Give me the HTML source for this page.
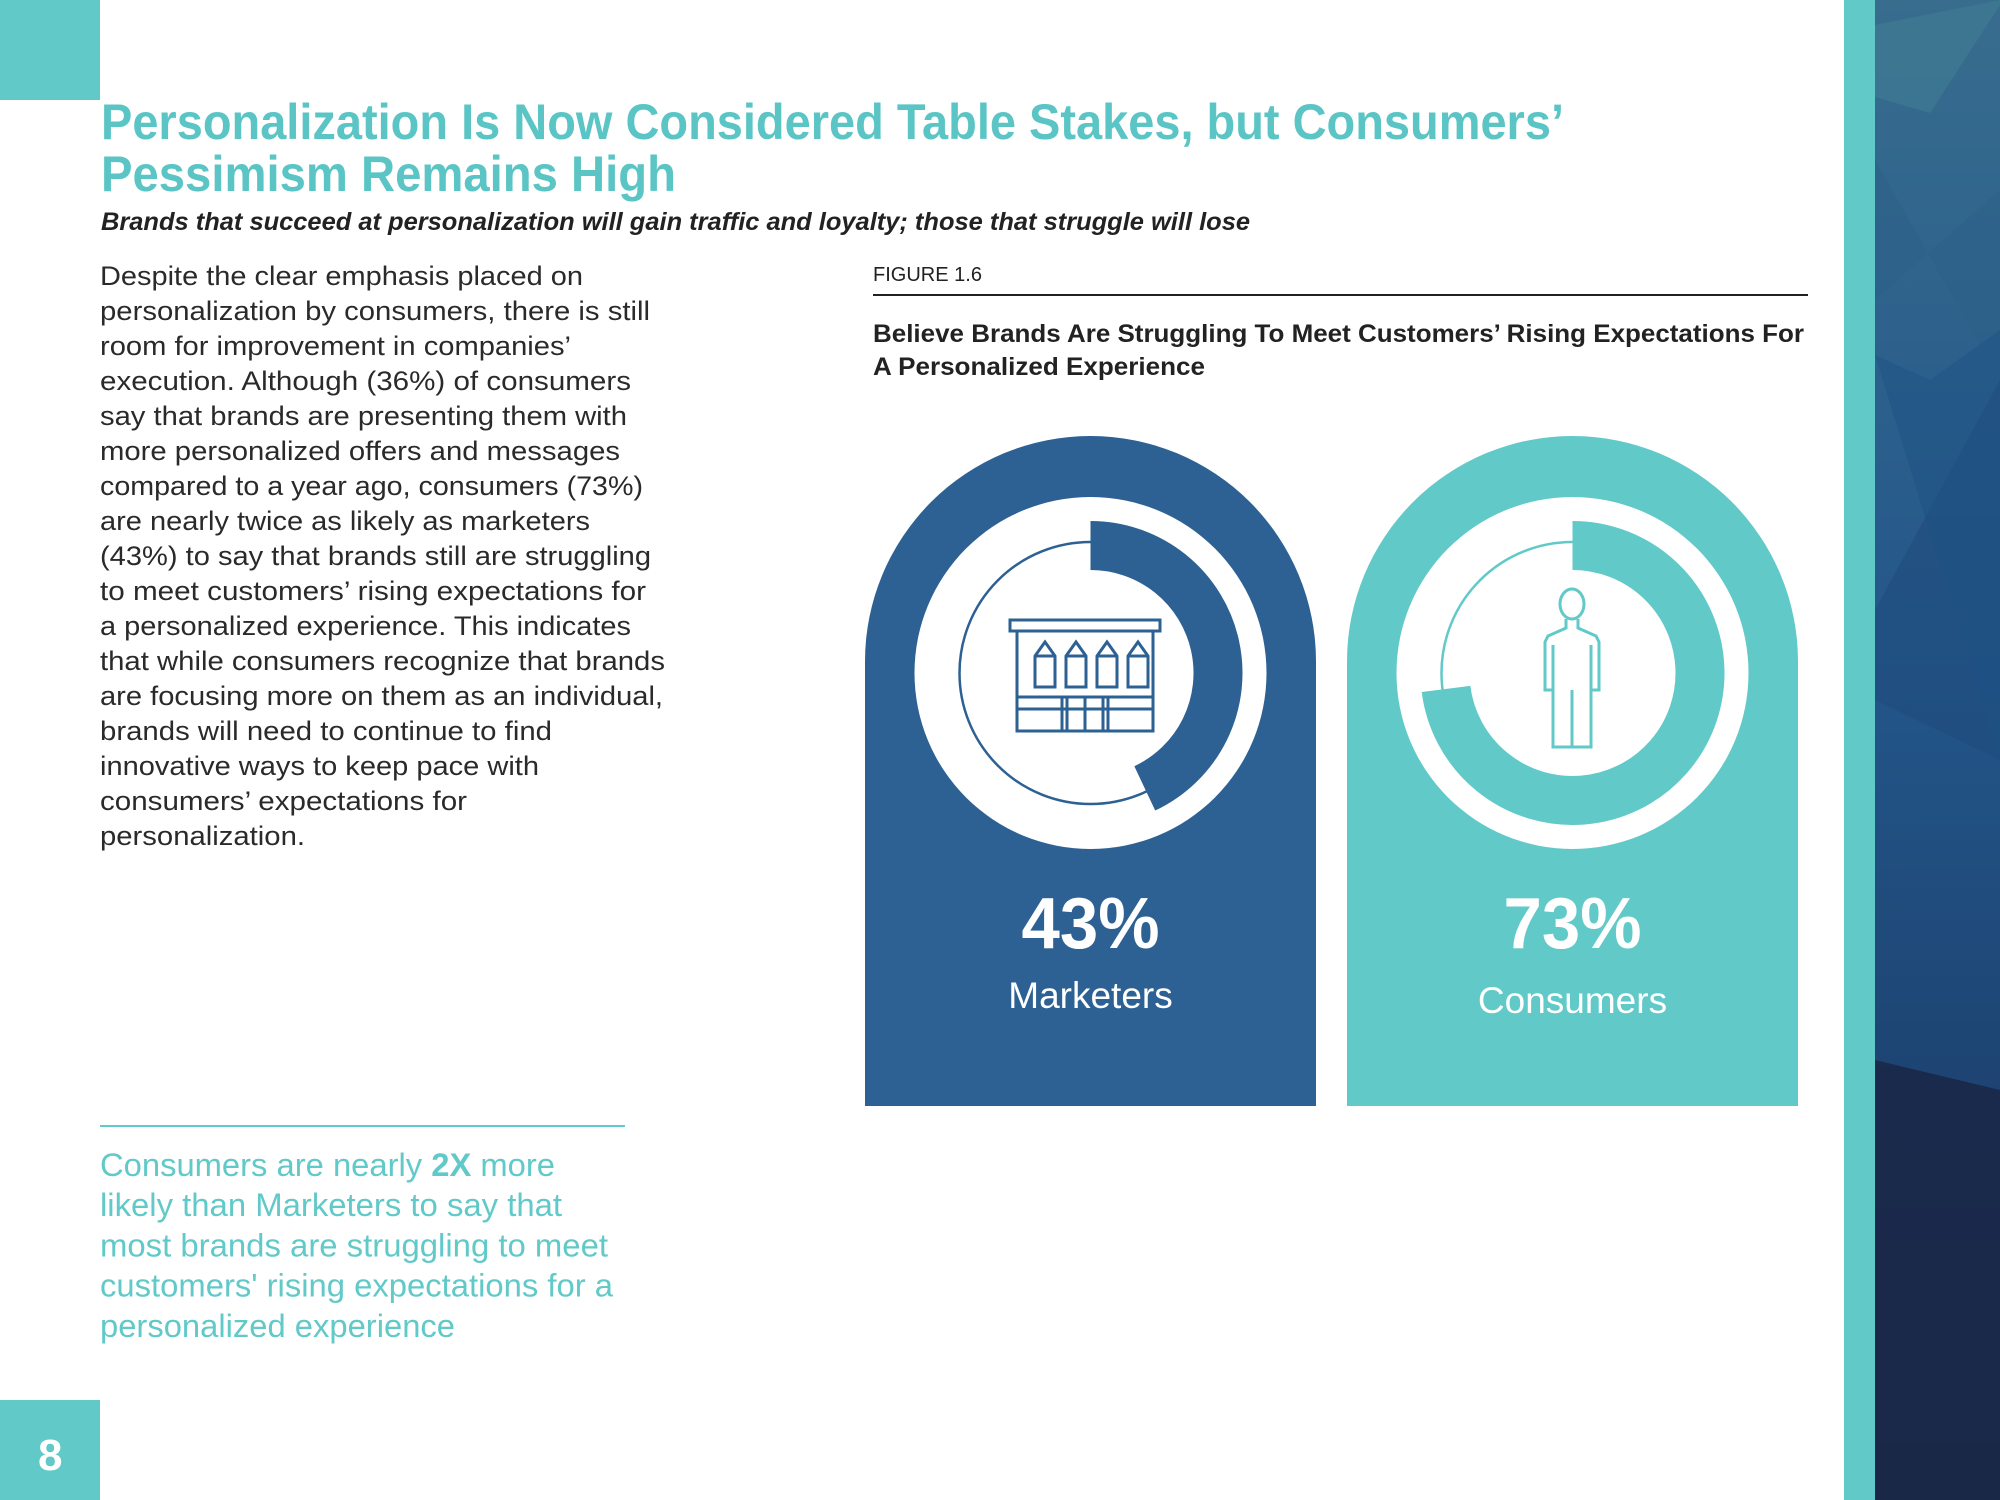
<!DOCTYPE html>
<html><head><meta charset="utf-8"><style>
html,body{margin:0;padding:0;background:#fff}
svg{display:block}
text{font-family:"Liberation Sans",sans-serif}
</style></head><body>
<svg id="page" width="2000" height="1500" viewBox="0 0 2000 1500" xmlns="http://www.w3.org/2000/svg">
<defs>
<linearGradient id="bg" x1="0" y1="0" x2="0" y2="1">
<stop offset="0" stop-color="#386d8e"/><stop offset="0.45" stop-color="#23568a"/><stop offset="0.72" stop-color="#1d4472"/><stop offset="1" stop-color="#1b2849"/>
</linearGradient>
</defs>
<rect x="0" y="0" width="100" height="100" fill="#62c9c9"/>
<g>
<rect x="1844" y="0" width="31" height="1500" fill="#62c9c9"/>
<rect x="1875" y="0" width="125" height="1500" fill="url(#bg)"/>
<polygon points="1875,25 2000,0 2000,5 1930,113 1875,97" fill="#3f7a93" opacity="0.7"/>
<polygon points="1875,300 2000,190 2000,380 1875,160" fill="#2b5f88" opacity="0.5"/>
<polygon points="1875,610 2000,380 2000,760 1875,700" fill="#1f4b7d" opacity="0.6"/>
<polygon points="1875,355 1930,380 2000,330 2000,760" fill="#1e5283" opacity="0.5"/>
<polygon points="1875,1060 2000,1090 2000,1500 1875,1500" fill="#1b2848" opacity="0.9"/>
</g>
<g fill="#5bc5c5" font-weight="bold" font-size="50">
<text x="101" y="139" textLength="1463" lengthAdjust="spacingAndGlyphs">Personalization Is Now Considered Table Stakes, but Consumers’</text>
<text x="101" y="191" textLength="575" lengthAdjust="spacingAndGlyphs">Pessimism Remains High</text>
</g>
<text x="101" y="230" font-size="25" font-weight="bold" font-style="italic" fill="#222" textLength="1149" lengthAdjust="spacingAndGlyphs">Brands that succeed at personalization will gain traffic and loyalty; those that struggle will lose</text>
<g id="body" font-size="27" fill="#2a2a2a"></g>
<line x1="100" y1="1126" x2="625" y2="1126" stroke="#62c9c9" stroke-width="2"/>
<g id="quote" font-size="32" fill="#62c9c9"></g>
<rect x="0" y="1400" width="100" height="100" fill="#62c9c9"/>
<text x="38" y="1470" font-size="44" font-weight="bold" fill="#fff">8</text>
<text x="873" y="281" font-size="20" fill="#222" textLength="109" lengthAdjust="spacingAndGlyphs">FIGURE 1.6</text>
<line x1="873" y1="295" x2="1808" y2="295" stroke="#222" stroke-width="2"/>
<g font-size="25" font-weight="bold" fill="#222">
<text x="873" y="342" textLength="931" lengthAdjust="spacingAndGlyphs">Believe Brands Are Struggling To Meet Customers’ Rising Expectations For</text>
<text x="873" y="375" textLength="332" lengthAdjust="spacingAndGlyphs">A Personalized Experience</text>
</g>
<g id="chart"></g>
</svg>
<script>
const bodyLines=["Despite the clear emphasis placed on","personalization by consumers, there is still","room for improvement in companies’","execution.  Although (36%) of consumers","say that brands are presenting them with","more personalized offers and messages","compared to a year ago, consumers (73%)","are nearly twice as likely as marketers","(43%) to say that brands still are struggling","to meet customers’ rising expectations for","a personalized experience. This indicates","that while consumers recognize that brands","are focusing more on them as an individual,","brands will need to continue to find","innovative ways to keep pace with","consumers’ expectations for","personalization."];
const bodyEnds=[458,510,448,495,492,487,505,463,511,507,495,522,520,433,423,367,240];
const quoteLines=["Consumers are nearly <b>2X</b> more","likely than Marketers to say that","most brands are struggling to meet","customers' rising expectations for a","personalized experience"];
const quoteEnds=[436,441,477,481,357];
const categories=["Marketers","Consumers"];
const values=[43,73];
const valueLabels=["43%","73%"];
const NS="http://www.w3.org/2000/svg";
function mk(tag,attrs,parent){const e=document.createElementNS(NS,tag);for(const k in attrs)e.setAttribute(k,attrs[k]);parent.appendChild(e);return e;}
const S=2000/1568;
const body=document.getElementById('body');
bodyLines.forEach((t,i)=>{const e=mk('text',{x:100,y:285+i*35,textLength:Math.round((bodyEnds[i]-79)*S),lengthAdjust:'spacingAndGlyphs'},body);


e.textContent=t;});
const quote=document.getElementById('quote');
quoteLines.forEach((t,i)=>{const e=mk('text',{x:100,y:1176+i*40.2,textLength:Math.round((quoteEnds[i]-79)*S),lengthAdjust:'spacingAndGlyphs'},quote);


if(t.includes('<b>')){const p=t.split(/<b>|<\/b>/);const a=mk('tspan',{},e);a.textContent=p[0];const b=mk('tspan',{'font-weight':'bold'},e);b.textContent=p[1];const c=mk('tspan',{},e);c.textContent=p[2];}else e.textContent=t;});
const chart=document.getElementById('chart');
const colors=["#2d6194","#62c9c9"];
const panelX=[865,1347], panelW=451, panelTop=436, panelBot=1106, cy=673;
function arcPath(cx,cy,r,pct){const a=pct/100*2*Math.PI;const x=cx+r*Math.sin(a),y=cy-r*Math.cos(a);return `M${cx},${cy-r} A${r},${r} 0 ${pct>50?1:0} 1 ${x},${y}`;}
categories.forEach((c,i)=>{
 const g=mk('g',{},chart);
 
 
 const x0=panelX[i],r=panelW/2,cx=x0+r,top=panelTop+r;
 const bg=mk('path',{d:`M${x0},${panelBot} L${x0},${top} A${r},${r} 0 0 1 ${x0+panelW},${top} L${x0+panelW},${panelBot} Z`,fill:colors[i]},g);
 
 
 mk('circle',{cx:cx,cy:cy,r:176,fill:'#fff'},g);
 const tc=mk('circle',{cx:cx,cy:cy,r:131,fill:'none',stroke:colors[i],'stroke-width':2.5},g);
 
 
 const ap=mk('path',{d:arcPath(cx,cy,127.5,values[i]),fill:'none',stroke:colors[i],'stroke-width':49},g);
 
 
 const vt=mk('text',{x:cx,y:948,'text-anchor':'middle','font-size':72,'font-weight':'bold',fill:'#fff',textLength:138,lengthAdjust:'spacingAndGlyphs'},g);
 
 
 vt.textContent=valueLabels[i];
 const ct=mk('text',{x:cx,y:i?1013:1008,'text-anchor':'middle','font-size':37,fill:'#fff'},g);
 
 
 ct.textContent=c;
});
(function(){const g=mk('g',{fill:'none',stroke:'#2d6194','stroke-width':3},chart);


mk('rect',{x:1010,y:620,width:150,height:11},g);
mk('rect',{x:1017,y:631,width:136,height:100},g);
for(let k=0;k<4;k++){const x=1035+k*31;mk('path',{d:`M${x},687 L${x},656 L${x+10},642 L${x+20},656 L${x+20},687 Z`},g);mk('line',{x1:x,y1:656,x2:x+20,y2:656},g);}
mk('line',{x1:1017,y1:697,x2:1153,y2:697},g);mk('line',{x1:1017,y1:709,x2:1153,y2:709},g);
mk('rect',{x:1067,y:697,width:36,height:34},g);mk('line',{x1:1085,y1:697,x2:1085,y2:731},g);
mk('line',{x1:1062,y1:697,x2:1062,y2:731},g);mk('line',{x1:1108,y1:697,x2:1108,y2:731},g);
})();
(function(){const g=mk('g',{fill:'none',stroke:'#62c9c9','stroke-width':3},chart);


mk('ellipse',{cx:1572,cy:604,rx:12,ry:15},g);
mk('path',{d:'M1566,619 L1566,628 L1548,636 L1545,642 L1545,690 L1553,690 L1553,747 L1591,747 L1591,690 L1599,690 L1599,642 L1596,636 L1578,628 L1578,619'},g);
mk('line',{x1:1572,y1:690,x2:1572,y2:747},g);mk('line',{x1:1553,y1:645,x2:1553,y2:690},g);mk('line',{x1:1591,y1:645,x2:1591,y2:690},g);
})();
</script>
</body></html>
